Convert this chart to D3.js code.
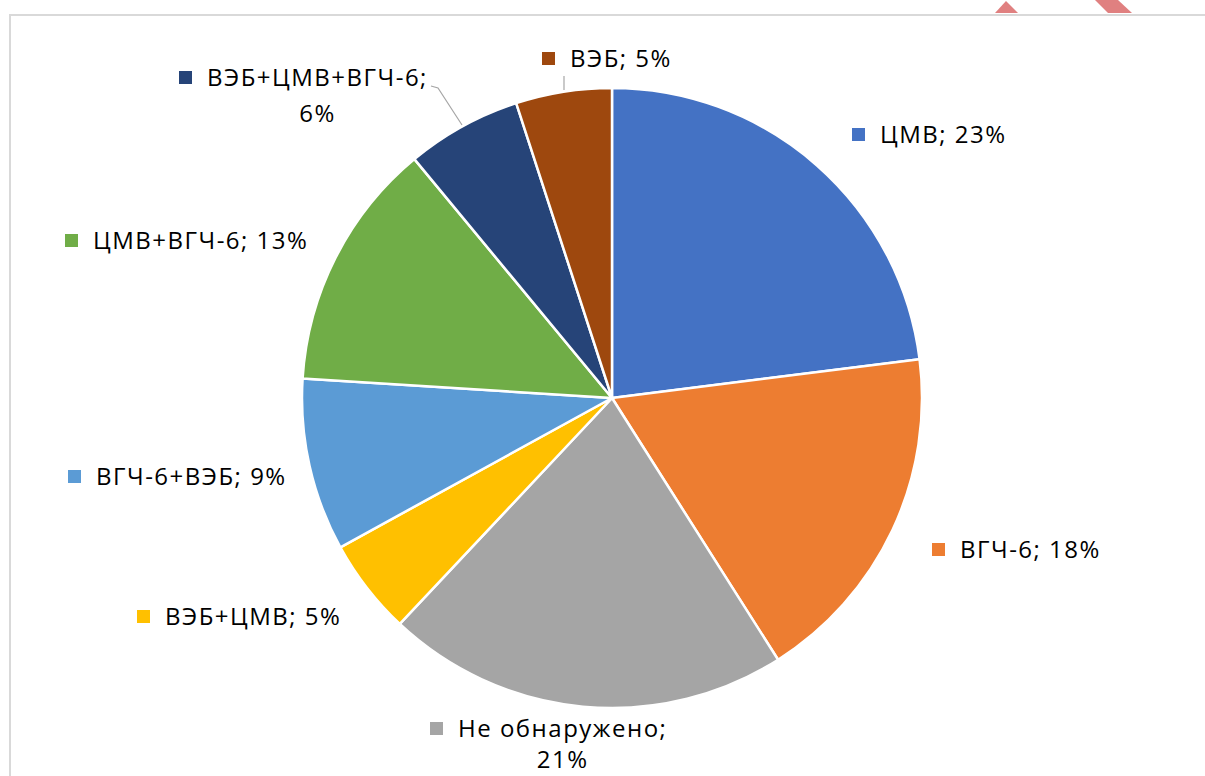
<!DOCTYPE html>
<html><head><meta charset="utf-8">
<script src="https://cdn.jsdelivr.net/npm/d3@7"></script>
<style>html,body{margin:0;padding:0;background:#fff;overflow:hidden}</style>
</head><body>
<svg id="c" width="1205" height="776"></svg>
<script>
const categories = ["ЦМВ","ВГЧ-6","Не обнаружено","ВЭБ+ЦМВ","ВГЧ-6+ВЭБ","ЦМВ+ВГЧ-6","ВЭБ+ЦМВ+ВГЧ-6","ВЭБ"];
const values = [23,18,21,5,9,13,6,5];
const colors = ["#4472C4","#ED7D31","#A5A5A5","#FFC000","#5B9BD5","#70AD47","#264478","#9E480E"];

// label layout: text x, baseline y, optional second-line offset
const labelLayout = [
  {x:880, y:143},
  {x:960, y:558},
  {x:458, y:737, br:31},
  {x:165, y:625},
  {x:96, y:485},
  {x:93, y:249},
  {x:207, y:86, br:36},
  {x:570, y:67}
];

const svg = d3.select("#c");
svg.append("rect").attr("x",10).attr("y",15).attr("width",1300).attr("height",900)
  .attr("fill","#fff").attr("stroke","#d9d9d9").attr("stroke-width",2);

// decorative red marks at top
svg.append("path").attr("d","M995,13 L1006,1 L1018,13 Z").attr("fill","#e08080");
svg.append("path").attr("d","M1095,0 L1118,0 L1132,13 L1108,13 Z").attr("fill","#e08080");

const cx=612, cy=398, R=310;
const pie = d3.pie().sort(null).value(d=>d)(values);
const arc = d3.arc().innerRadius(0).outerRadius(R);
const g = svg.append("g").attr("transform",`translate(${cx},${cy})`);
g.selectAll("path").data(pie).join("path")
  .attr("d",arc).attr("fill",(d,i)=>colors[i])
  .attr("stroke","#fff").attr("stroke-width",2.5).attr("stroke-linejoin","round");

// leader lines
const line = d3.line();
svg.append("path").attr("d",line([[564,76],[564,90]])).attr("stroke","#a6a6a6").attr("fill","none").attr("stroke-width",1.2);
svg.append("path").attr("d",line([[431,86],[438,88],[462,125]])).attr("stroke","#a6a6a6").attr("fill","none").attr("stroke-width",1.2);

const font = "'Open Sans', sans-serif";
const fs = 24, ls = 1.5;
function txt(x,y,s,anchor){
  return svg.append("text").attr("x",x).attr("y",y).attr("font-family",font).attr("font-size",fs)
    .attr("letter-spacing",ls).attr("fill","#000").attr("text-anchor",anchor||"start").text(s);
}
categories.forEach((c,i)=>{
  const L = labelLayout[i];
  svg.append("rect").attr("x",L.x-28).attr("y",L.y-15).attr("width",13).attr("height",13).attr("fill",colors[i]);
  const pct = values[i]+"%";
  if(L.br){
    const t = txt(L.x,L.y,c+";");
    const w = t.node().getComputedTextLength();
    txt(L.x+w/2,L.y+L.br,pct,"middle");
  } else {
    txt(L.x,L.y,c+"; "+pct);
  }
});
</script>
</body></html>
